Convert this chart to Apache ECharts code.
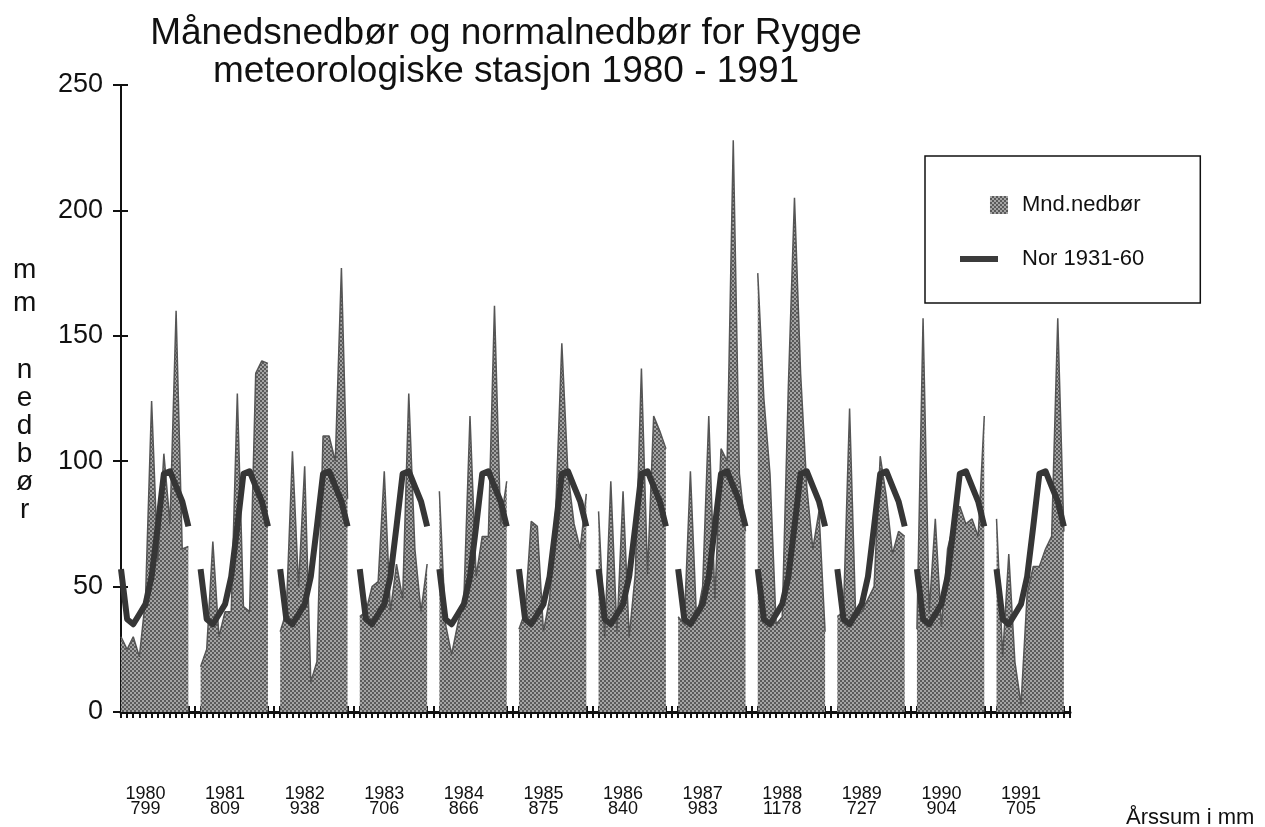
<!DOCTYPE html>
<html>
<head>
<meta charset="utf-8">
<title>Rygge nedbør 1980-1991</title>
<script src="https://cdn.jsdelivr.net/npm/echarts@6/dist/echarts.min.js"></script>
<style>
  html, body { margin: 0; padding: 0; background: #fff; }
  #chart { width: 1265px; height: 827px; }
</style>
</head>
<body>
<div id="chart"></div>
<script>
// år og årssum (mm)
const years = ['1980', '1981', '1982', '1983', '1984', '1985', '1986', '1987', '1988', '1989', '1990', '1991']
const yearSums = [799, 809, 938, 706, 866, 875, 840, 983, 1178, 727, 904, 705]

// normalnedbør 1931-60, jan-des
const normal = [57, 37, 35, 39, 43, 54, 74, 95, 96, 90, 84, 74]

// månedsnedbør, jan-des, lest av figuren
const p1980 = [30, 25, 30, 22, 45, 124, 60, 103, 75, 160, 65, 66]
const p1981 = [18, 25, 68, 30, 40, 40, 127, 42, 40, 135, 140, 139]
const p1982 = [32, 40, 104, 50, 98, 12, 20, 110, 110, 100, 177, 85]
const p1983 = [38, 40, 50, 52, 96, 40, 59, 45, 127, 65, 40, 59]
const p1984 = [88, 35, 23, 35, 45, 118, 54, 70, 70, 162, 75, 92]
const p1985 = [33, 40, 76, 74, 32, 45, 80, 147, 95, 75, 65, 87]
const p1986 = [80, 30, 92, 32, 88, 30, 55, 137, 55, 118, 112, 105]
const p1987 = [38, 35, 96, 37, 50, 118, 45, 105, 100, 228, 95, 72]
const p1988 = [175, 125, 95, 35, 38, 130, 205, 135, 90, 65, 80, 32]
const p1989 = [38, 40, 121, 38, 40, 45, 50, 102, 86, 63, 72, 70]
const p1990 = [33, 157, 40, 77, 34, 65, 75, 82, 75, 77, 70, 118]
const p1991 = [77, 22, 63, 20, 3, 47, 58, 58, 65, 70, 157, 72]

const monthly = [p1980, p1981, p1982, p1983, p1984, p1985, p1986, p1987, p1988, p1989, p1990, p1991]

// 12 måneder + ett tomt felt per år
const SLOTS = 13
let categories = []
let rain = []
let norm = []
years.forEach((y, i) => {
  for (let m = 0; m < 12; m++) {
    categories.push(y + '-' + (m + 1))
    rain.push(monthly[i][m])
    norm.push(normal[m])
  }
  categories.push(y + '-gap')
  rain.push(null)
  norm.push(null)
})

// prikkemønster for nedbørsflaten
const pat = document.createElement('canvas')
pat.width = 4
pat.height = 4
const g = pat.getContext('2d')
g.fillStyle = '#a4a4a4'
g.fillRect(0, 0, 4, 4)
g.fillStyle = '#5a5a5a'
g.fillRect(0, 0, 2, 2)
g.fillRect(2, 2, 2, 2)
const stipple = { image: pat, repeat: 'repeat' }

const font = 'Liberation Sans, Arial, Helvetica, sans-serif'

let options = {
  animation: false,
  backgroundColor: '#fff',
  title: {
    text: 'Månedsnedbør og normalnedbør for Rygge\nmeteorologiske stasjon 1980 - 1991',
    left: 501,
    top: 10,
    textAlign: 'center',
    textStyle: {
      fontFamily: font,
      fontSize: 37,
      fontWeight: 'normal',
      lineHeight: 38,
      color: '#111'
    }
  },
  legend: {
    orient: 'vertical',
    left: 925,
    top: 156,
    padding: [38, 56, 33, 35],
    itemGap: 32,
    itemWidth: 57,
    itemHeight: 18,
    borderColor: '#111',
    borderWidth: 1.5,
    selectedMode: false,
    textStyle: { fontFamily: font, fontSize: 22, color: '#111' },
    data: [
      {
        name: 'Mnd.nedbør',
        icon: 'path://M0 9h0.01M30 0h18v18h-18zM57 9h0.01',
        itemStyle: { color: stipple }
      },
      {
        name: 'Nor 1931-60',
        icon: 'path://M0 0h38v6h-38zM57 3h0.01',
        itemStyle: { color: '#3b3b3b' }
      }
    ]
  },
  graphic: [
    {
      type: 'text',
      left: 13,
      top: 254,
      style: { text: 'm\nm', font: '28px ' + font, lineHeight: 33, fill: '#111', textAlign: 'center' }
    },
    {
      type: 'text',
      left: 16,
      top: 356,
      style: { text: 'n\ne\nd\nb\nø\nr', font: '28px ' + font, lineHeight: 28, fill: '#111', textAlign: 'center' }
    },
    {
      type: 'text',
      left: 1126,
      top: 807,
      style: { text: 'Årssum i mm', font: '22px ' + font, fill: '#111' }
    }
  ],
  grid: {
    left: 121,
    right: 195,
    top: 85,
    bottom: 115,
    containLabel: false
  },
  xAxis: [
    {
      type: 'category',
      data: categories,
      boundaryGap: false,
      axisLine: { lineStyle: { color: '#111', width: 3 } },
      axisTick: { interval: 0, length: 6, lineStyle: { color: '#111', width: 2 } },
      axisLabel: {
        interval: (index) => index % SLOTS === 4,
        formatter: (value, index) => {
          let k = Math.floor(index / SLOTS)
          return years[k] + '\n' + yearSums[k]
        },
        margin: 75,
        fontFamily: font,
        fontSize: 18,
        lineHeight: 15,
        color: '#111'
      },
      splitLine: { show: false }
    },
    {
      type: 'category',
      data: categories,
      boundaryGap: false,
      position: 'bottom',
      axisLine: { show: false },
      axisTick: { interval: 0, inside: true, length: 6, lineStyle: { color: '#111', width: 2 } },
      axisLabel: { show: false },
      splitLine: { show: false }
    }
  ],
  yAxis: [
    {
      type: 'value',
      min: 0,
      max: 250,
      interval: 50,
      axisLine: { show: true, lineStyle: { color: '#111', width: 2 } },
      axisTick: { show: true, length: 8, lineStyle: { color: '#111', width: 2 } },
      axisLabel: { margin: 18, fontFamily: font, fontSize: 27, color: '#111' },
      splitLine: { show: false }
    },
    {
      type: 'value',
      min: 0,
      max: 250,
      interval: 50,
      position: 'left',
      axisLine: { show: false },
      axisTick: { show: true, inside: true, length: 7, lineStyle: { color: '#111', width: 2 } },
      axisLabel: { show: false },
      splitLine: { show: false }
    }
  ],
  series: [
    {
      name: 'Mnd.nedbør',
      type: 'line',
      data: rain,
      symbol: 'none',
      connectNulls: false,
      lineStyle: { color: '#555', width: 1.5 },
      itemStyle: { color: '#777' },
      areaStyle: { color: stipple, opacity: 1 },
      z: 2
    },
    {
      name: 'Nor 1931-60',
      type: 'line',
      data: norm,
      symbol: 'none',
      connectNulls: false,
      lineStyle: { color: '#363636', width: 6, join: 'round', cap: 'butt' },
      itemStyle: { color: '#363636' },
      z: 3
    }
  ]
}

let myChart = echarts.init(document.getElementById('chart'))
myChart.setOption(options)
window.addEventListener('resize', () => {
  myChart.resize()
})
</script>
</body>
</html>
